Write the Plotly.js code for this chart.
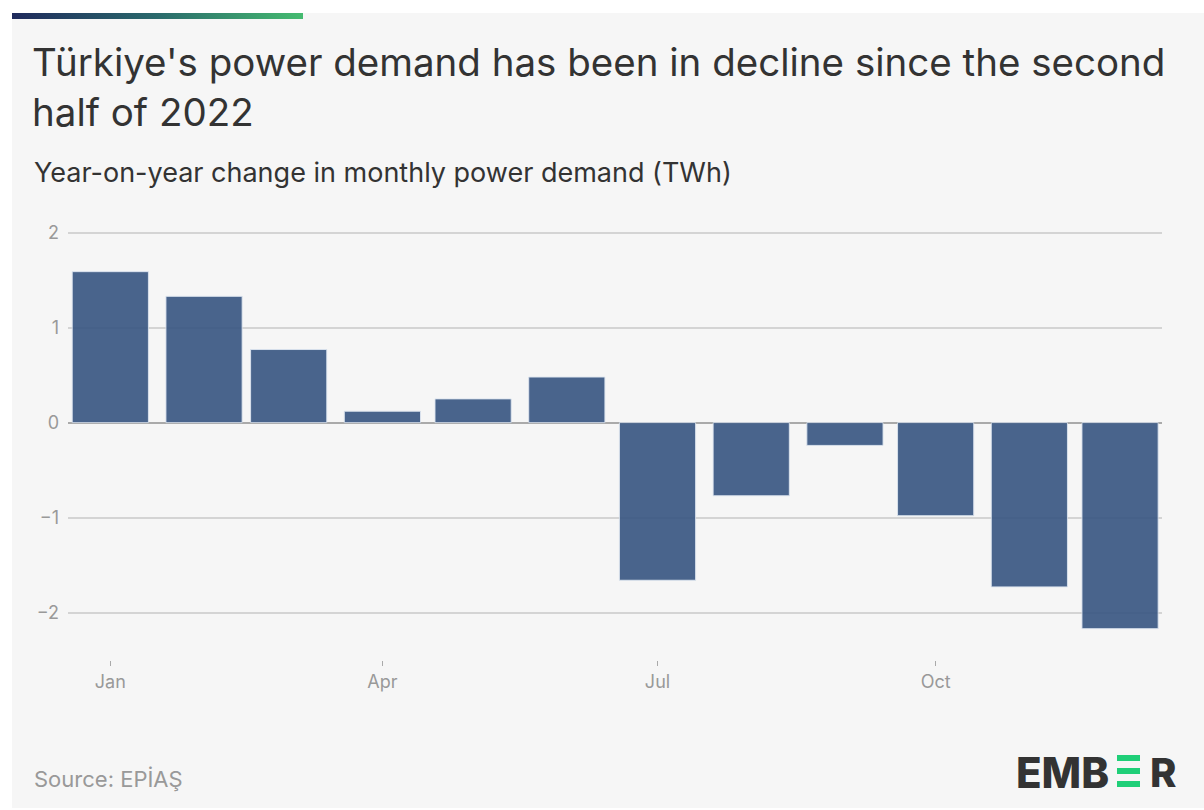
<!DOCTYPE html>
<html>
<head>
<meta charset="utf-8">
<script src="https://cdn.plot.ly/plotly-3.0.1.min.js"></script>
<style>
  html, body { margin: 0; padding: 0; background: #ffffff; width: 1204px; height: 810px; overflow: hidden; }
  #card { position: absolute; left: 12px; top: 13px; width: 1192px; height: 795px; background: #f6f6f6; }
  #bar { position: absolute; left: 12px; top: 13px; width: 291px; height: 6px; background: linear-gradient(90deg, #1f2a5c 0%, #2a6a6c 50%, #45bb70 100%); }
  #chart { position: absolute; left: 0; top: 0; width: 1204px; height: 810px; }
</style>
</head>
<body>
<div id="card"></div>
<div id="bar"></div>
<div id="chart"></div>
<script>
// Data
const months = ['2022-01-01','2022-02-01','2022-03-01','2022-04-01','2022-05-01','2022-06-01',
                '2022-07-01','2022-08-01','2022-09-01','2022-10-01','2022-11-01','2022-12-01'];
const demandChange = [1.59, 1.33, 0.77, 0.12, 0.25, 0.48, -1.66, -0.77, -0.24, -0.98, -1.73, -2.17];
const yTicks = [-2, -1, 0, 1, 2];
const yTickLabels = ['\u22122', '\u22121', '0', '1', '2'];

const titleText = "Türkiye's power demand has been in decline since the second<br>half of 2022";
const subtitleText = "Year-on-year change in monthly power demand (TWh)";
const sourceText = "Source: EPİAŞ";

// layout helpers (pixel -> paper)
const L = 68, R = 1162, T = 228, B = 660;
const px = x => (x - L) / (R - L);
const py = y => (B - y) / (B - T);
const FONT = 'Inter, "Noto Sans", sans-serif';

const trace = {
  type: 'bar',
  x: months,
  y: demandChange,
  marker: { color: 'rgb(55,85,129)', opacity: 0.9, line: { color: 'rgba(220,228,240,0.9)', width: 1 } },
  hoverinfo: 'x+y'
};

const layout = {
  width: 1204, height: 810,
  paper_bgcolor: 'rgba(0,0,0,0)',
  plot_bgcolor: 'rgba(0,0,0,0)',
  margin: { l: L, r: 1204 - R, t: T, b: 810 - B, pad: 0 },
  font: { family: FONT, color: '#999999' },
  bargap: 0.1,
  showlegend: false,
  title: {
    text: titleText,
    font: { family: FONT, size: 38.5, color: '#333333' },
    xref: 'container', yref: 'container',
    x: 32 / 1204, xanchor: 'left',
    y: 1 - 76 / 810, yanchor: 'top'
  },
  xaxis: {
    type: 'date',
    range: ['2021-12-18', '2022-12-14 21:00'],
    tick0: '2022-01-01', dtick: 'M3',
    tickformat: '%b',
    ticks: 'outside', ticklen: 5, tickwidth: 1, tickcolor: '#aaaaaa',
    showgrid: false, zeroline: false, showline: false,
    tickfont: { size: 18, color: '#999999' },
    fixedrange: true
  },
  yaxis: {
    range: [-2.5, 2.05],
    tickvals: yTicks, ticktext: yTickLabels,
    showgrid: true, gridcolor: '#d4d4d4', gridwidth: 1.5,
    zeroline: true, zerolinecolor: '#aaaaaa', zerolinewidth: 2,
    showline: false, ticks: '',
    ticklabelstandoff: 8,
    tickfont: { size: 18, color: '#999999' },
    fixedrange: true
  },
  annotations: [
    { text: subtitleText, xref: 'paper', yref: 'paper', x: px(32), y: py(172), xanchor: 'left', yanchor: 'middle',
      showarrow: false, font: { size: 27, color: '#333333', family: FONT } },
    { text: sourceText, xref: 'paper', yref: 'paper', x: px(32), y: py(779), xanchor: 'left', yanchor: 'middle',
      showarrow: false, font: { size: 22, color: '#999999', family: FONT } },
    { text: 'EMB', xref: 'paper', yref: 'paper', x: px(1111), y: py(772), xanchor: 'right', yanchor: 'middle',
      showarrow: false, font: { size: 42, color: '#333333', family: FONT, weight: 800 } },
    { text: 'R', xref: 'paper', yref: 'paper', x: px(1148), y: py(772), xanchor: 'left', yanchor: 'middle',
      showarrow: false, font: { size: 40, color: '#333333', family: FONT, weight: 800 } }
  ],
  shapes: [
    { type: 'rect', xref: 'paper', yref: 'paper', x0: px(1117), x1: px(1140), y0: py(755), y1: py(761), fillcolor: '#1fcf78', line: { width: 0 } },
    { type: 'rect', xref: 'paper', yref: 'paper', x0: px(1117), x1: px(1140), y0: py(768), y1: py(774), fillcolor: '#1fcf78', line: { width: 0 } },
    { type: 'rect', xref: 'paper', yref: 'paper', x0: px(1117), x1: px(1140), y0: py(781), y1: py(787), fillcolor: '#1fcf78', line: { width: 0 } }
  ]
};

Plotly.newPlot('chart', [trace], layout, { displayModeBar: false });
</script>
</body>
</html>
